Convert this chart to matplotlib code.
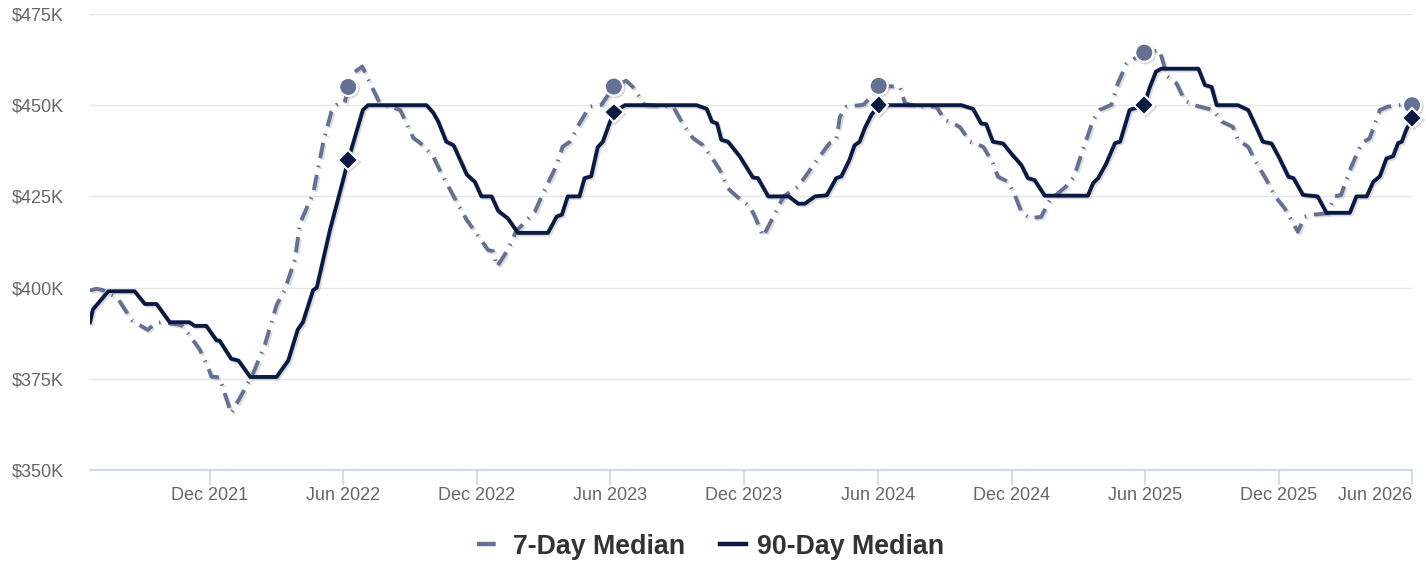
import pandas as pd
import matplotlib
matplotlib.use("Agg")
import matplotlib.pyplot as plt
import matplotlib.patheffects as pe
from matplotlib.lines import Line2D
from matplotlib.ticker import FuncFormatter

plt.rcParams['font.family'] = ['Liberation Sans', 'DejaVu Sans']

# 90-day rolling median, $K
dates_90 = [
    '2021-06-20', '2021-06-24', '2021-07-15', '2021-08-20', '2021-09-03', '2021-09-19',
    '2021-10-07', '2021-11-03', '2021-11-10', '2021-11-26', '2021-12-10', '2021-12-14',
    '2021-12-30', '2022-01-09', '2022-01-25', '2022-03-02', '2022-03-18', '2022-03-31',
    '2022-04-07', '2022-04-21', '2022-04-26', '2022-05-14', '2022-06-01', '2022-06-08',
    '2022-06-28', '2022-07-05', '2022-09-23', '2022-10-02', '2022-10-09', '2022-10-20',
    '2022-10-30', '2022-11-17', '2022-11-28', '2022-12-07', '2022-12-21', '2022-12-30',
    '2023-01-12', '2023-01-26', '2023-03-08', '2023-03-20', '2023-03-27', '2023-04-04',
    '2023-04-20', '2023-04-27', '2023-05-06', '2023-05-15', '2023-05-22', '2023-05-31',
    '2023-06-06', '2023-06-21', '2023-09-27', '2023-10-11', '2023-10-18', '2023-10-25',
    '2023-10-31', '2023-11-09', '2023-11-25', '2023-12-13', '2023-12-20', '2024-01-03',
    '2024-01-31', '2024-02-13', '2024-02-22', '2024-03-07', '2024-03-23', '2024-04-05',
    '2024-04-12', '2024-04-23', '2024-04-30', '2024-05-07', '2024-05-14', '2024-05-23',
    '2024-06-02', '2024-09-23', '2024-10-09', '2024-10-20', '2024-10-27', '2024-11-05',
    '2024-11-19', '2024-11-30', '2024-12-14', '2024-12-23', '2025-01-01', '2025-01-15',
    '2025-03-15', '2025-03-22', '2025-03-29', '2025-04-09', '2025-04-21', '2025-04-28',
    '2025-05-11', '2025-05-31', '2025-06-07', '2025-06-16', '2025-06-23', '2025-08-13',
    '2025-08-22', '2025-08-31', '2025-09-07', '2025-10-06', '2025-10-20', '2025-10-31',
    '2025-11-09', '2025-11-21', '2025-12-02', '2025-12-14', '2025-12-21', '2026-01-03',
    '2026-01-23', '2026-02-04', '2026-03-08', '2026-03-17', '2026-03-31', '2026-04-09',
    '2026-04-18', '2026-04-27', '2026-05-06', '2026-05-13', '2026-05-18', '2026-05-24',
    '2026-06-01',
]
median_90 = [
    390.5, 394.0, 399.0, 399.0, 395.5, 395.5,
    390.5, 390.5, 389.5, 389.5, 385.5, 385.5,
    380.5, 380.0, 375.5, 375.5, 380.0, 388.5,
    390.5, 399.3, 400.0, 415.8, 429.5, 435.0,
    448.7, 450.0, 450.0, 448.0, 445.5, 440.0,
    439.0, 431.0, 429.0, 425.0, 425.0, 421.0,
    419.0, 415.0, 415.0, 419.5, 420.0, 425.0,
    425.0, 430.0, 430.5, 438.5, 440.0, 445.0,
    448.0, 450.0, 450.0, 449.0, 445.5, 445.0,
    440.5, 440.0, 436.0, 430.2, 430.0, 425.0,
    425.0, 423.0, 423.0, 425.0, 425.3, 430.0,
    430.5, 435.0, 439.0, 440.0, 443.7, 447.3,
    450.0, 450.0, 449.0, 445.0, 444.8, 440.0,
    439.5, 436.8, 433.6, 430.0, 429.5, 425.2,
    425.2, 428.6, 430.0, 434.0, 439.6, 440.0,
    448.7, 450.0, 454.6, 459.2, 460.0, 460.0,
    455.5, 455.0, 450.0, 450.0, 448.7, 444.0,
    440.0, 439.5, 435.4, 430.4, 430.0, 425.4,
    425.0, 420.5, 420.5, 425.0, 425.0, 429.0,
    430.5, 435.4, 436.0, 439.6, 440.0, 443.2,
    446.5,
]

# 7-day rolling median, $K
dates_7 = [
    '2021-06-20', '2021-06-29', '2021-07-08', '2021-07-28', '2021-08-16', '2021-08-27',
    '2021-09-07', '2021-09-17', '2021-09-26', '2021-10-23', '2021-11-01', '2021-11-17',
    '2021-11-28', '2021-12-03', '2021-12-14', '2021-12-30', '2022-01-17', '2022-01-29',
    '2022-02-14', '2022-03-02', '2022-03-13', '2022-03-27', '2022-04-03', '2022-04-21',
    '2022-05-05', '2022-05-16', '2022-05-23', '2022-06-03', '2022-06-08', '2022-06-16',
    '2022-06-27', '2022-07-21', '2022-08-18', '2022-09-05', '2022-09-14', '2022-10-02',
    '2022-10-11', '2022-10-30', '2022-11-17', '2022-12-05', '2022-12-16', '2022-12-23',
    '2022-12-28', '2023-01-12', '2023-01-23', '2023-02-11', '2023-02-18', '2023-03-01',
    '2023-03-10', '2023-03-19', '2023-03-28', '2023-04-07', '2023-04-20', '2023-05-04',
    '2023-05-20', '2023-06-06', '2023-06-23', '2023-07-02', '2023-07-18', '2023-08-26',
    '2023-09-08', '2023-09-22', '2023-10-06', '2023-10-20', '2023-10-29', '2023-11-09',
    '2023-11-21', '2023-12-09', '2023-12-16', '2023-12-27', '2024-01-10', '2024-01-24',
    '2024-02-13', '2024-02-29', '2024-03-13', '2024-03-27', '2024-04-05', '2024-04-10',
    '2024-04-19', '2024-05-12', '2024-05-25', '2024-06-02', '2024-07-01', '2024-07-08',
    '2024-07-28', '2024-08-20', '2024-08-31', '2024-09-12', '2024-09-21', '2024-10-05',
    '2024-10-23', '2024-11-05', '2024-11-12', '2024-11-26', '2024-12-05', '2024-12-14',
    '2024-12-25', '2025-01-10', '2025-01-22', '2025-02-13', '2025-02-24', '2025-03-08',
    '2025-03-22', '2025-03-31', '2025-04-16', '2025-04-25', '2025-05-07', '2025-05-31',
    '2025-06-21', '2025-07-01', '2025-07-14', '2025-07-25', '2025-08-05', '2025-09-02',
    '2025-09-14', '2025-09-29', '2025-10-06', '2025-10-20', '2025-10-29', '2025-11-14',
    '2025-11-26', '2025-12-09', '2025-12-27', '2026-01-05', '2026-01-17', '2026-02-06',
    '2026-02-15', '2026-02-24', '2026-03-08', '2026-03-24', '2026-04-04', '2026-04-18',
    '2026-04-29', '2026-05-18', '2026-06-01',
]
median_7 = [
    399.2, 399.7, 399.3, 397.0, 391.1, 389.7,
    388.4, 390.2, 390.5, 389.7, 387.5, 383.0,
    378.3, 375.6, 375.4, 365.5, 372.0, 376.5,
    384.3, 395.2, 399.3, 407.6, 417.6, 425.8,
    440.0, 448.2, 450.1, 450.5, 455.0, 459.0,
    460.6, 450.5, 448.7, 441.0, 439.7, 436.0,
    432.2, 425.0, 418.5, 413.5, 410.3, 410.0,
    405.7, 410.3, 415.3, 419.4, 420.8, 425.8,
    429.5, 433.2, 438.6, 440.0, 445.0, 449.6,
    450.1, 455.1, 456.7, 455.0, 450.1, 449.6,
    445.0, 441.0, 439.0, 435.0, 432.2, 427.2,
    425.0, 422.2, 419.4, 414.0, 419.4, 425.0,
    427.7, 432.2, 435.9, 439.6, 440.5, 446.8,
    449.6, 450.1, 452.8, 455.3, 455.1, 450.5,
    449.6, 449.6, 446.0, 445.0, 444.0, 440.0,
    438.6, 434.1, 430.4, 429.0, 425.4, 420.8,
    419.0, 419.4, 424.0, 427.7, 430.4, 437.7,
    445.9, 448.7, 450.1, 456.0, 461.5, 464.4,
    465.1, 458.0, 456.0, 451.4, 450.1, 448.7,
    445.5, 444.1, 440.5, 438.6, 435.0, 429.5,
    425.0, 421.7, 415.3, 419.4, 420.0, 420.4,
    425.0, 425.4, 432.2, 439.6, 440.9, 448.7,
    449.6, 450.1, 450.0,
]

# same day each year, highlighted on both series
marker_dates = ['2022-06-08', '2023-06-06', '2024-06-02', '2025-05-31', '2026-06-01']

c7 = '#667094'
c90 = '#0b1a45'

s7 = pd.Series(median_7, index=pd.to_datetime(dates_7))
s90 = pd.Series(median_90, index=pd.to_datetime(dates_90))
mk = pd.to_datetime(marker_dates)

fig = plt.figure(figsize=(14.26, 5.62), dpi=100)
ax = fig.add_axes([0.0631, 0.1637, 0.9271, 0.8114])

shadow = [pe.SimpleLineShadow(offset=(1.2, -1.2), shadow_color='#888888', alpha=0.3), pe.Normal()]

# long dash / dot pattern for the short window
ax.plot(s7.index, s7.values, color=c7, lw=2.8, dashes=(4, 2.0, 0.4, 2.0),
        dash_capstyle='butt', path_effects=shadow, zorder=3)
ax.plot(s90.index, s90.values, color=c90, lw=2.8, solid_joinstyle='round',
        path_effects=shadow, zorder=4)

ax.plot(mk, s7.loc[mk].values, ls='none', marker='o', ms=13, mfc=c7, mec='white',
        mew=1.5, path_effects=shadow, zorder=5, clip_on=False)
ax.plot(mk, s90.loc[mk].values, ls='none', marker='D', ms=10, mfc=c90, mec='white',
        mew=1.5, path_effects=shadow, zorder=6, clip_on=False)

ax.set_xlim(pd.Timestamp('2021-06-20'), pd.Timestamp('2026-06-01'))
ax.set_ylim(350, 475)
ax.set_yticks([350, 375, 400, 425, 450, 475])
ax.yaxis.set_major_formatter(FuncFormatter(lambda v, p: f'${v:.0f}K'))
ax.grid(axis='y', color='#e6e6e6', lw=1)
ax.set_axisbelow(True)

ticks = pd.date_range('2021-12-01', '2026-06-01', freq='6MS')
ax.set_xticks(ticks)
ax.set_xticklabels([t.strftime('%b %Y') for t in ticks])
ax.get_xticklabels()[-1].set_horizontalalignment('right')

for side in ['top', 'right', 'left']:
    ax.spines[side].set_visible(False)
ax.spines['bottom'].set_color('#ccd6eb')
ax.spines['bottom'].set_linewidth(1.3)

ax.tick_params(axis='x', length=10.5, width=1.2, color='#ccd6eb', pad=1.5,
               labelsize=13, labelcolor='#666666')
ax.tick_params(axis='y', length=0, pad=19, labelsize=13, labelcolor='#666666')

handles = [
    Line2D([], [], color=c7, lw=3.2, dashes=(4.2, 10), dash_capstyle='butt'),
    Line2D([], [], color=c90, lw=3.2),
]
fig.legend(handles, ['7-Day Median', '90-Day Median'], loc='center',
           bbox_to_anchor=(0.498, 0.027), ncol=2, frameon=False,
           handlelength=0.96, handletextpad=0.4, columnspacing=1.3,
           prop={'size': 19.3, 'weight': 'bold'}, labelcolor='#333333')

fig.savefig('out.png', dpi=100)
